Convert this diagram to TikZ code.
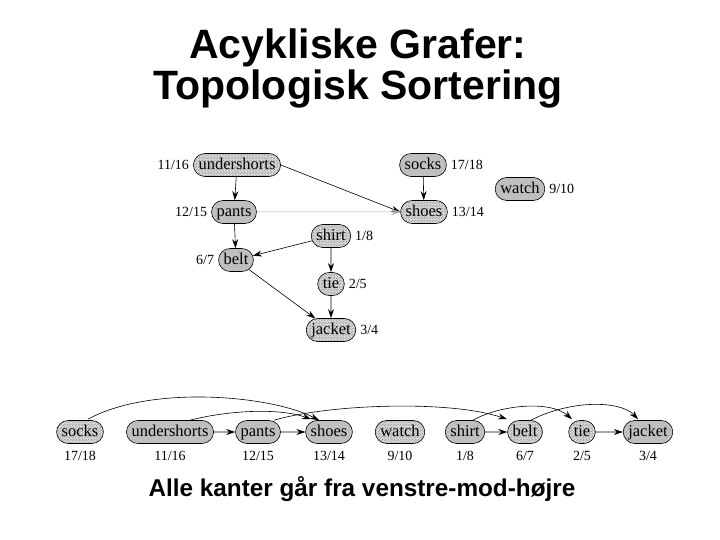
\documentclass[tikz,border=0pt]{standalone}
\usepackage{fontspec}
\setmainfont{Liberation Serif}
\newfontfamily\titlefont{Liberation Sans}
\usetikzlibrary{arrows.meta,shapes.misc,patterns}
\pgfdeclarepatternformonly{smallchecks}{\pgfpointorigin}{\pgfpoint{3pt}{3pt}}{\pgfpoint{3pt}{3pt}}{%
  \pgfpathrectangle{\pgfpointorigin}{\pgfpoint{1.5pt}{1.5pt}}%
  \pgfpathrectangle{\pgfpoint{1.5pt}{1.5pt}}{\pgfpoint{1.5pt}{1.5pt}}%
  \pgfusepath{fill}}
\begin{document}
\begin{tikzpicture}[x=1pt,y=-1pt,
  vtx/.style={rounded rectangle,draw=black,line width=0.6pt,fill=gray!50,
    inner xsep=2.5pt,inner ysep=0pt,minimum height=23pt,text height=12pt,text depth=2.5pt,
    font=\fontsize{16.5}{16.5}\selectfont},
  vtxc/.style={vtx,preaction={fill=gray!30},pattern=smallchecks,pattern color=gray!70},
  lbl/.style={font=\fontsize{14}{14}\selectfont,inner sep=0pt},
  ttl/.style={font=\titlefont\bfseries\fontsize{41}{41}\selectfont,inner sep=0pt,anchor=base},
  edge/.style={-{Stealth[length=9pt,width=6pt,inset=3pt]},line width=0.6pt},
  thin edge/.style={edge,draw=gray!70,line width=0.5pt}]
\useasboundingbox (0,0) rectangle (720,540);
% title
\node[ttl] (title1) at (358,59) {Acykliske Grafer:};
\node[ttl] (title2) at (358,100) {Topologisk Sortering};
% top graph
\node[vtxc] (u) at (237,165) {undershorts};
\node[vtx] (so) at (423,165) {socks};
\node[vtx] (w) at (520,189) {watch};
\node[vtx] (p) at (234,212) {pants};
\node[vtxc] (sh) at (424,212) {shoes};
\node[vtxc] (sr) at (331,236) {shirt};
\node[vtx] (b) at (236,260) {belt};
\node[vtxc] (t) at (331,284) {tie};
\node[vtxc] (j) at (331,330) {jacket};
\node[lbl,anchor=east] (ul) at ([xshift=-4pt]u.west) {11/16};
\node[lbl,anchor=west] (sol) at ([xshift=4pt]so.east) {17/18};
\node[lbl,anchor=west] (wl) at ([xshift=4pt]w.east) {9/10};
\node[lbl,anchor=east] (pl) at ([xshift=-4pt]p.west) {12/15};
\node[lbl,anchor=west] (shl) at ([xshift=4pt]sh.east) {13/14};
\node[lbl,anchor=west] (srl) at ([xshift=4pt]sr.east) {1/8};
\node[lbl,anchor=east] (bl) at ([xshift=-4pt]b.west) {6/7};
\node[lbl,anchor=west] (tl) at ([xshift=4pt]t.east) {2/5};
\node[lbl,anchor=west] (jl) at ([xshift=4pt]j.east) {3/4};
\draw[edge] (u) -- (p);
\draw[edge] (u.east) -- (sh.west);
\draw[thin edge] (p) -- (sh);
\draw[edge] (so) -- (sh);
\draw[edge] (p) -- (b);
\draw[edge] (sr) -- (b);
\draw[edge] (sr) -- (t);
\draw[edge] (b) -- (j);
\draw[edge] (t) -- (j);
% bottom row
\node[vtxc] (so2) at (80,432) {socks};
\node[vtx] (u2) at (170,432) {undershorts};
\node[vtx] (p2) at (258,432) {pants};
\node[vtx] (sh2) at (329,432) {shoes};
\node[vtxc] (w2) at (400,432) {watch};
\node[vtx] (sr2) at (465,432) {shirt};
\node[vtxc] (b2) at (525,432) {belt};
\node[vtxc] (t2) at (582,432) {tie};
\node[vtx] (j2) at (648,432) {jacket};
\foreach \n/\t in {so2/17\slash 18,u2/11\slash 16,p2/12\slash 15,sh2/13\slash 14,w2/9\slash 10,sr2/1\slash 8,b2/6\slash 7,t2/2\slash 5,j2/3\slash 4}
  \node[lbl] (\n l) at ([yshift=-24pt]\n.center) {\t};
\draw[edge] (u2) -- (p2);
\draw[edge] (p2) -- (sh2);
\draw[edge] (sr2) -- (b2);
\draw[edge] (t2) -- (j2);
\draw[edge] ([xshift=8pt,yshift=1pt]so2.north) coordinate (a1) .. controls (150,385) and (270,395) .. ([xshift=-10pt]sh2.north);
\draw[edge] ([xshift=20pt]u2.north) coordinate (a2) .. controls (230,410) and (280,408) .. ([xshift=-18pt,yshift=1pt]sh2.north);
\draw[edge] ([xshift=16pt]p2.north) coordinate (a3) .. controls (330,404) and (450,400) .. ([xshift=-18pt,yshift=1pt]b2.north);
\draw[edge] ([xshift=8pt]sr2.north) coordinate (a4) .. controls (500,405) and (550,400) .. ([xshift=-10pt,yshift=1pt]t2.north);
\draw[edge] ([xshift=6pt]b2.north) coordinate (a5) .. controls (570,400) and (620,400) .. ([xshift=-10pt,yshift=1pt]j2.north);
% footer
\node[font=\titlefont\bfseries\fontsize{24.3}{26}\selectfont,inner sep=0pt,anchor=base] (foot) at (362,496) {Alle kanter går fra venstre-mod-højre};
\end{tikzpicture}
\end{document}
